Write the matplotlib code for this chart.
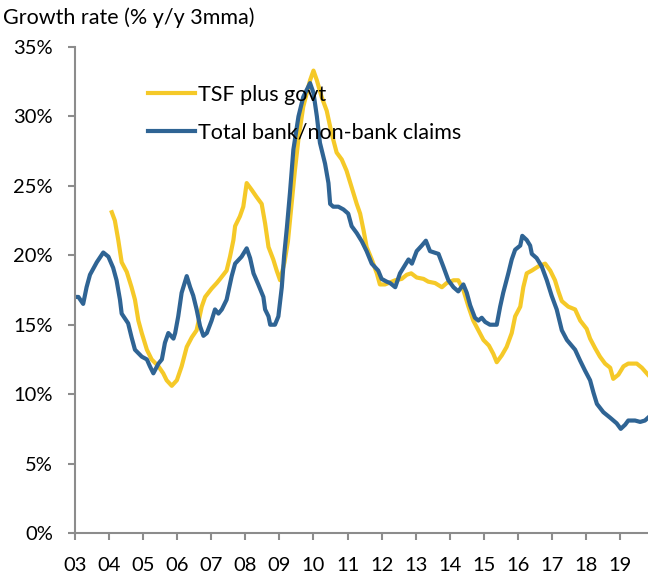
import matplotlib.pyplot as plt

# TSF plus govt (yellow), year fraction vs % y/y
tsf_x = [2004.08, 2004.17, 2004.27, 2004.37, 2004.52, 2004.66, 2004.76, 2004.86, 2004.96, 2005.11,
         2005.25, 2005.45, 2005.59, 2005.69, 2005.84, 2005.99, 2006.13, 2006.28, 2006.43, 2006.57,
         2006.72, 2006.82, 2007.01, 2007.16, 2007.26, 2007.45, 2007.55, 2007.65, 2007.70, 2007.84,
         2007.94, 2008.04, 2008.19, 2008.33, 2008.48, 2008.58, 2008.68, 2008.82, 2008.92, 2009.02,
         2009.15, 2009.25, 2009.33, 2009.45, 2009.56, 2009.70, 2009.90, 2010.00, 2010.10, 2010.24,
         2010.39, 2010.53, 2010.68, 2010.83, 2010.97, 2011.12, 2011.27, 2011.37, 2011.47, 2011.56,
         2011.71, 2011.86, 2011.95, 2012.10, 2012.20, 2012.40, 2012.59, 2012.74, 2012.87, 2013.03,
         2013.23, 2013.37, 2013.57, 2013.77, 2013.91, 2014.11, 2014.25, 2014.40, 2014.55, 2014.69,
         2014.84, 2014.99, 2015.15, 2015.28, 2015.38, 2015.53, 2015.67, 2015.82, 2015.92, 2016.07,
         2016.16, 2016.26, 2016.41, 2016.60, 2016.80, 2016.95, 2017.09, 2017.19, 2017.29, 2017.48,
         2017.68, 2017.83, 2018.02, 2018.12, 2018.27, 2018.41, 2018.56, 2018.71, 2018.80, 2018.95,
         2019.10, 2019.24, 2019.49, 2019.64, 2019.82]
tsf_y = [23.1, 22.5, 21.1, 19.5, 18.8, 17.7, 16.8, 15.3, 14.4, 13.2,
         12.5, 12.0, 11.5, 11.0, 10.6, 11.0, 12.0, 13.4, 14.1, 14.6,
         16.3, 17.0, 17.6, 18.0, 18.3, 18.9, 19.9, 21.1, 22.1, 22.8,
         23.5, 25.2, 24.7, 24.2, 23.7, 22.3, 20.6, 19.7, 18.9, 18.2,
         19.5, 21.0, 23.0, 26.0, 28.4, 30.7, 32.6, 33.3, 32.6, 31.4,
         30.4, 28.8, 27.4, 26.9, 26.1, 24.9, 23.7, 23.0, 21.8, 20.6,
         19.7, 18.7, 17.9, 17.9, 18.0, 18.2, 18.3, 18.6, 18.7, 18.4,
         18.3, 18.1, 18.0, 17.7, 18.0, 18.2, 18.2, 17.5, 16.3, 15.3,
         14.6, 13.9, 13.5, 12.9, 12.3, 12.8, 13.4, 14.4, 15.6, 16.3,
         17.7, 18.7, 18.9, 19.2, 19.4, 18.9, 18.2, 17.4, 16.7, 16.3,
         16.1, 15.3, 14.7, 14.0, 13.3, 12.7, 12.2, 11.9, 11.1, 11.4,
         12.0, 12.2, 12.2, 11.9, 11.4]

# Total bank/non-bank claims (blue)
bank_x = [2003.00, 2003.10, 2003.24, 2003.34, 2003.44, 2003.64, 2003.83, 2003.98, 2004.12, 2004.22,
          2004.32, 2004.37, 2004.56, 2004.66, 2004.76, 2004.96, 2005.11, 2005.20, 2005.30, 2005.45,
          2005.55, 2005.64, 2005.74, 2005.89, 2005.94, 2006.03, 2006.13, 2006.28, 2006.38, 2006.47,
          2006.57, 2006.67, 2006.77, 2006.87, 2007.01, 2007.11, 2007.21, 2007.31, 2007.45, 2007.60,
          2007.70, 2007.89, 2008.04, 2008.14, 2008.24, 2008.38, 2008.53, 2008.58, 2008.68, 2008.73,
          2008.87, 2008.97, 2009.07, 2009.14, 2009.22, 2009.31, 2009.41, 2009.56, 2009.70, 2009.90,
          2010.00, 2010.10, 2010.19, 2010.34, 2010.44, 2010.49, 2010.58, 2010.73, 2010.88, 2011.02,
          2011.12, 2011.27, 2011.42, 2011.56, 2011.71, 2011.90, 2012.00, 2012.15, 2012.25, 2012.40,
          2012.54, 2012.69, 2012.79, 2012.89, 2013.03, 2013.18, 2013.30, 2013.42, 2013.67, 2013.81,
          2013.96, 2014.11, 2014.25, 2014.40, 2014.50, 2014.60, 2014.74, 2014.84, 2014.94, 2015.04,
          2015.18, 2015.38, 2015.48, 2015.57, 2015.72, 2015.82, 2015.92, 2016.07, 2016.13, 2016.26,
          2016.36, 2016.41, 2016.55, 2016.70, 2016.85, 2016.99, 2017.14, 2017.29, 2017.44, 2017.68,
          2017.83, 2017.97, 2018.12, 2018.22, 2018.32, 2018.51, 2018.71, 2018.90, 2019.02, 2019.15,
          2019.24, 2019.44, 2019.59, 2019.73, 2019.82]
bank_y = [17.0, 17.0, 16.5, 17.7, 18.6, 19.5, 20.2, 19.9, 19.1, 18.2,
          16.8, 15.8, 15.1, 14.1, 13.2, 12.7, 12.5, 12.0, 11.5, 12.2,
          12.5, 13.7, 14.4, 14.0, 14.4, 15.6, 17.3, 18.5, 17.7, 17.1,
          16.1, 14.9, 14.2, 14.4, 15.3, 16.1, 15.8, 16.1, 16.8, 18.5,
          19.4, 19.9, 20.5, 19.8, 18.7, 17.9, 17.0, 16.1, 15.6, 15.0,
          15.0, 15.6, 17.7, 20.0, 22.0, 24.5, 27.6, 30.0, 31.4, 32.4,
          31.7, 30.0, 28.1, 26.6, 25.2, 23.7, 23.5, 23.5, 23.3, 23.0,
          22.1, 21.6, 21.0, 20.3, 19.4, 18.9, 18.3, 18.1, 18.0, 17.7,
          18.7, 19.3, 19.7, 19.4, 20.3, 20.7, 21.05, 20.3, 20.1, 19.2,
          18.2, 17.7, 17.4, 17.9, 17.3, 16.4, 15.5, 15.3, 15.5, 15.2,
          15.0, 15.0, 16.3, 17.3, 18.7, 19.7, 20.4, 20.7, 21.4, 21.1,
          20.7, 20.1, 19.8, 19.2, 18.2, 17.1, 16.1, 14.6, 13.9, 13.2,
          12.4, 11.7, 11.0, 10.1, 9.3, 8.7, 8.3, 7.9, 7.5, 7.8,
          8.1, 8.1, 8.0, 8.1, 8.3]

years = list(range(2003, 2020))
year_labels = ['%02d' % (y % 100) for y in years]
pct_ticks = [0, 5, 10, 15, 20, 25, 30, 35]

plt.rcParams['font.family'] = ['Lato', 'DejaVu Sans']

fig = plt.figure(figsize=(6.48, 5.82), dpi=100)
ax = fig.add_axes([75 / 648, 49 / 582, 573 / 648, 486 / 582])

ax.plot(tsf_x, tsf_y, color='#F5C928', linewidth=3, label='TSF plus govt')
ax.plot(bank_x, bank_y, color='#2F6494', linewidth=3, label='Total bank/non-bank claims')

ax.set_xlim(2003, 2019.82)
ax.set_ylim(0, 35)
ax.set_xticks(years)
ax.set_xticklabels(year_labels)
ax.set_yticks(pct_ticks)
ax.set_yticklabels(['%d%%' % v for v in pct_ticks])

for s in ['top', 'right']:
    ax.spines[s].set_visible(False)
for s in ['left', 'bottom']:
    ax.spines[s].set_color('#8C8C8C')
    ax.spines[s].set_linewidth(1.5)
ax.tick_params(axis='both', colors='#8C8C8C', length=5, width=1.5, labelsize=14.5, labelcolor='black')
ax.tick_params(axis='y', pad=11)
ax.tick_params(axis='x', pad=12)

ax.legend(loc='upper left', bbox_to_anchor=(0.093, 0.962), frameon=False, fontsize=15.5,
          handlelength=2.2, handletextpad=0.15, labelspacing=0.8)

fig.text(3 / 648, 1 - 18 / 582, 'Growth rate (% y/y 3mma)', fontsize=15.5, va='center', ha='left')

fig.savefig('out.png', dpi=100)
